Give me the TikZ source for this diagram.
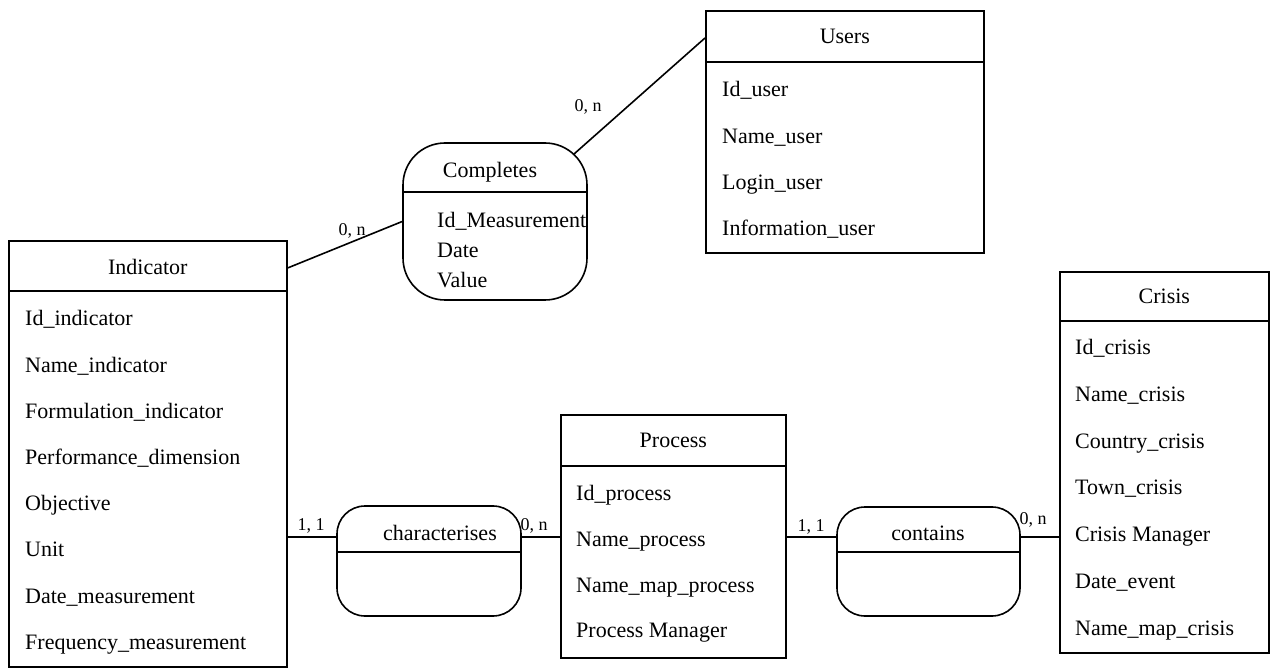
\documentclass[tikz,border=0pt]{standalone}
\usepackage{fontspec}
\setmainfont{Liberation Serif}
\usetikzlibrary{calc}
\tikzset{
	entity/.style={draw, line width=1.6pt, anchor=north west, inner sep=0pt},
	relation/.style={draw, line width=1.6pt, rounded corners=#1, inner sep=0pt},
	relation/.default=28pt,
	headline/.style={line width=2.8pt},
	midline/.style={line width=1.6pt},
	link/.style={line width=1.6pt},
	txt/.style={inner sep=0pt, font=\fontsize{22}{26}\selectfont, text height=1.5ex, text depth=.25ex, yshift=-5pt},
	attr/.style={txt, anchor=west},
	card/.style={inner sep=0pt, font=\fontsize{18}{20}\selectfont, yshift=-2pt}
}

\begin{document}
\begin{tikzpicture}[x=1pt, y=-1pt]
			%%%%% START %%%%%
			\useasboundingbox (0, 0) rectangle (1270, 668);
			
			% entities
			\node[entity, minimum width=278pt, minimum height=426pt] (indicator) at (8, 240) {};
			\draw[headline] ([yshift=-51pt]indicator.north west) -- ([yshift=-51pt]indicator.north east);
			\node[txt] (indicator-t) at ([yshift=-27pt]indicator.north) {Indicator};
			\foreach \a [count=\i from 0] in {Id\_indicator, Name\_indicator, Formulation\_indicator, Performance\_dimension, Objective, Unit, Date\_measurement, Frequency\_measurement}
				\node[attr] (indicator-\i) at (25, 318+46.2*\i) {\a};
			
			\node[entity, minimum width=278pt, minimum height=242pt] (users) at (705, 10) {};
			\draw[headline] ([yshift=-52pt]users.north west) -- ([yshift=-52pt]users.north east);
			\node[txt] (users-t) at ([yshift=-26pt]users.north) {Users};
			\foreach \a [count=\i from 0] in {Id\_user, Name\_user, Login\_user, Information\_user}
				\node[attr] (users-\i) at (722, 89+46.3*\i) {\a};
			
			\node[entity, minimum width=225pt, minimum height=243pt] (process) at (560, 414) {};
			\draw[headline] ([yshift=-52pt]process.north west) -- ([yshift=-52pt]process.north east);
			\node[txt] (process-t) at ([yshift=-26pt]process.north) {Process};
			\foreach \a [count=\i from 0] in {Id\_process, Name\_process, Name\_map\_process, Process Manager}
				\node[attr] (process-\i) at (576, 493+45.7*\i) {\a};
			
			\node[entity, minimum width=209pt, minimum height=381pt] (crisis) at (1059, 271) {};
			\draw[headline] ([yshift=-50pt]crisis.north west) -- ([yshift=-50pt]crisis.north east);
			\node[txt] (crisis-t) at ([yshift=-25pt]crisis.north) {Crisis};
			\foreach \a [count=\i from 0] in {Id\_crisis, Name\_crisis, Country\_crisis, Town\_crisis, Crisis Manager, Date\_event, Name\_map\_crisis}
				\node[attr] (crisis-\i) at (1075, 347+46.7*\i) {\a};
			
			% relations
			\node[relation=42pt, minimum width=184pt, minimum height=157pt] (completes) at (495, 221.5) {};
			\draw[midline] (completes.west |- 0,192) -- (completes.east |- 0,192);
			\node[txt] (completes-t) at (490, 170) {Completes};
			\foreach \a [count=\i from 0] in {Id\_Measurement, Date, Value}
				\node[attr] (completes-\i) at (437, 220+30*\i) {\a};
			
			\node[relation, minimum width=184pt, minimum height=110pt] (charac) at (429, 561) {};
			\draw[midline] (charac.west |- 0,552) -- (charac.east |- 0,552);
			\node[txt] (charac-t) at (440, 533) {characterises};
			
			\node[relation, minimum width=183pt, minimum height=109pt] (contains) at (928.5, 561.5) {};
			\draw[midline] (contains.west |- 0,552) -- (contains.east |- 0,552);
			\node[txt] (contains-t) at (928, 533) {contains};
			
			% links
			\coordinate (row) at (0, 537);
			\draw[link] ([yshift=-28pt]indicator.north east) -- (completes.west);
			\draw[link] ([xshift=-14pt, yshift=-12pt]completes.north east) -- ([yshift=-28pt]users.north west);
			\draw[link] (indicator.east |- row) -- (charac.west |- row);
			\draw[link] (charac.east |- row) -- (process.west |- row);
			\draw[link] (process.east |- row) -- (contains.west |- row);
			\draw[link] (contains.east |- row) -- (crisis.west |- row);
			
			\node[card] (c1) at (352, 229) {0, n};
			\node[card] (c2) at (588, 105) {0, n};
			\node[card] (c3) at (311, 524) {1, 1};
			\node[card] (c4) at (534, 524) {0, n};
			\node[card] (c5) at (811, 525) {1, 1};
			\node[card] (c6) at (1033, 518) {0, n};
			
			%%%%% END %%%%%
\end{tikzpicture}
\end{document}
